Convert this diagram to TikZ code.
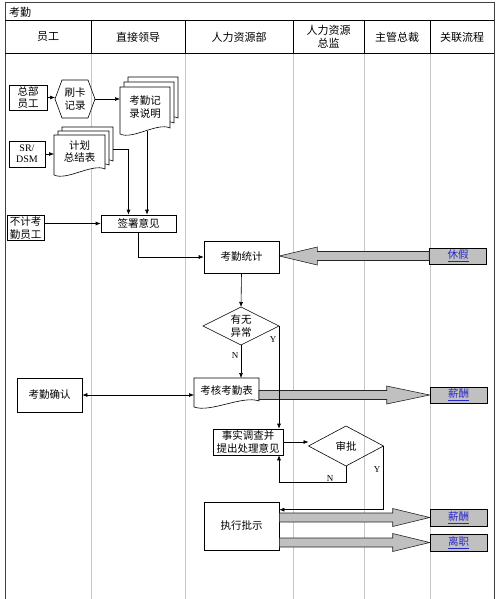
\documentclass[tikz,border=0pt]{standalone}
\usepackage{fontspec}
\setmainfont{Liberation Serif}
\newfontfamily\cjk{Noto Sans CJK SC}
\usetikzlibrary{calc,arrows.meta}
\definecolor{linkblue}{RGB}{40,40,200}
\definecolor{linkfill}{RGB}{192,192,192}
\tikzset{
  txt/.style={font=\cjk\fontsize{10.5}{12.5}\selectfont, align=center, inner sep=1pt},
  box/.style={txt, draw, line width=0.6pt},
  ghost/.style={inner sep=0pt, outer sep=0pt},
  hdr/.style={font=\cjk\fontsize{11}{13}\selectfont, align=center, inner sep=0pt},
  link/.style={draw, line width=0.6pt, fill=linkfill, minimum width=57pt, minimum height=16pt,
    inner sep=0pt, font=\cjk\fontsize{10.5}{12}\selectfont, text=linkblue},
  conn/.style={line width=0.6pt, -{Latex[length=5pt,width=4pt]}},
  dconn/.style={line width=0.6pt, {Latex[length=5pt,width=4pt]}-{Latex[length=5pt,width=4pt]}},
  fat/.style={draw=black!85, fill=linkfill, line width=0.6pt},
  lane/.style={draw=black!22, line width=0.8pt},
  frame/.style={draw=black!75, line width=1pt},
  yn/.style={font=\rmfamily\fontsize{9}{10}\selectfont, inner sep=0pt},
  shapeline/.style={line width=0.6pt, fill=white}
}
\newcommand{\DocShape}[3]{%
  \draw[shapeline] ($(#1.north west)+(#2,#3)$) -- ($(#1.north east)+(#2,#3)$)
    -- ($(#1.south east)+(#2,{#3-3})$)
    .. controls ($(#1.south)!0.5!(#1.south east)+(#2,{#3-9})$) and ($(#1.south)!0.5!(#1.south west)+(#2,{#3+9})$)
    .. ($(#1.south west)+(#2,{#3+3})$) -- cycle;}
\newcommand{\FatArrow}[3]{%
  \pgfmathsetmacro{\fatL}{0-(#3)}%
  \draw[fat] ($(#1)+(0,-4.5)$) -- ($(#2)+(\fatL,-4.5)$) -- ($(#2)+(\fatL,-9)$) -- (#2)
    -- ($(#2)+(\fatL,9)$) -- ($(#2)+(\fatL,4.5)$) -- ($(#1)+(0,4.5)$) -- cycle;}
\begin{document}
\begin{tikzpicture}[x=1pt,y=-1pt]
\useasboundingbox (0,0) rectangle (498,599);
% lanes and frame
\foreach \x in {91,185,293,364,430} {
  \draw[lane] (\x,53) -- (\x,599);
  \draw[line width=0.7pt] (\x,20) -- (\x,53);
}
\draw[frame] (5,599) -- (5,3) -- (494,3) -- (494,599);
\draw[line width=0.7pt] (5,20) -- (494,20);
\draw[line width=0.7pt] (5,53) -- (494,53);
% headers
\node[hdr, anchor=west] (title) at (9,12) {考勤};
\node[hdr] (h1) at (48,37) {员工};
\node[hdr] (h2) at (138,37) {直接领导};
\node[hdr] (h3) at (239,37) {人力资源部};
\node[hdr] (h4) at (328.5,37) {人力资源\\总监};
\node[hdr] (h5) at (397,37) {主管总裁};
\node[hdr] (h6) at (462,37) {关联流程};

% row 1
\node[box, minimum width=38pt, minimum height=25pt] (zb) at (28,97.5) {总部\\员工};
\node[ghost, minimum width=40pt, minimum height=38pt] (sk) at (75,99) {};
\draw[line width=0.6pt] (sk.west) -- ($(sk.north west)+(7,0)$) -- ($(sk.north east)+(-7,0)$)
  -- (sk.east) -- ($(sk.south east)+(-7,0)$) -- ($(sk.south west)+(7,0)$) -- cycle;
\node[txt] (skt) at (sk) {刷卡\\记录};
\node[ghost, minimum width=50pt, minimum height=44pt] (kj) at (145,109) {};
\DocShape{kj}{8}{-10}
\DocShape{kj}{4}{-5}
\DocShape{kj}{0}{0}
\node[txt] (kjt) at ($(kj)+(0,-2)$) {考勤记\\录说明};
\draw[conn] (zb.east) -- (zb.east -| sk.west);
\draw[conn] (sk.east) -- (sk.east -| kj.west);

% row 2
\node[box, minimum width=36pt, minimum height=26pt, font=\rmfamily\fontsize{10}{11}\selectfont] (sr) at (27,154) {SR/\\DSM};
\node[ghost, minimum width=51pt, minimum height=37pt] (jh) at (79.5,153.5) {};
\DocShape{jh}{8}{-8}
\DocShape{jh}{4}{-4}
\DocShape{jh}{0}{0}
\node[txt] (jht) at ($(jh)+(0,-2)$) {计划\\总结表};
\draw[conn] (sr.east) -- (sr.east -| jh.west);

% sign
\node[box, minimum width=75pt, minimum height=17pt] (qs) at (138.5,223.5) {签署意见};
\node[box, minimum width=37pt, minimum height=25pt] (bj) at (25.5,228) {不计考\\勤员工};
\coordinate (jhr) at ($(jh.east)+(8,-4)$);
\coordinate (qsl) at ($(qs.north)+(-10,0)$);
\draw[conn] (jhr) -| (qsl);
\coordinate (kjb) at ($(kj.south)+(2,0)$);
\draw[conn] (kjb) -- (kjb |- qs.north);
\draw[conn] (bj.east |- qs.west) -- (qs.west);

% statistics
\node[box, minimum width=75pt, minimum height=32pt] (kt) at (241.5,257) {考勤统计};
\draw[conn] (qs.south) |- (kt.west);
\node[link] (xj) at (458,256) {\underline{休假}};
\coordinate (xjt) at (kt.east |- xj.west);
\FatArrow{xj.west}{xjt}{-38}

% anomaly diamond
\node[ghost, minimum width=76pt, minimum height=38pt] (d1) at (241,326) {};
\draw[line width=0.6pt] (d1.west) -- (d1.north) -- (d1.east) -- (d1.south) -- cycle;
\node[txt] (d1t) at (d1) {有无\\异常};
\draw[conn] (kt.south) -- (d1.north);
\node[yn] (y1) at (273,340) {Y};
\node[yn] (n1) at (235,356) {N};

% check table
\node[ghost, minimum width=65pt, minimum height=26pt] (kh) at (226.5,391) {};
\DocShape{kh}{0}{0}
\node[txt] (kht) at (kh) {考核考勤表};
\draw[conn] (d1.south) -- (d1.south |- kh.north);
\node[box, minimum width=65pt, minimum height=34pt] (qr) at (49.5,395) {考勤确认};
\draw[dconn] (qr.east) -- (qr.east -| kh.west);
\node[link] (xc1) at (458.5,395) {\underline{薪酬}};
\coordinate (khs) at (kh.east |- xc1.west);
\FatArrow{khs}{xc1.west}{43}

% investigation
\node[box, minimum width=70pt, minimum height=26pt] (fc) at (248,442) {事实调查并\\提出处理意见};
\draw[conn] (d1.east) -- (d1.east |- fc.north);
\node[ghost, minimum width=75pt, minimum height=40pt] (sp) at (346,446) {};
\draw[line width=0.6pt] (sp.west) -- (sp.north) -- (sp.east) -- (sp.south) -- cycle;
\node[txt] (spt) at (sp) {审批};
\draw[conn] (fc.east) -- (fc.east -| sp.west);
\coordinate (nt) at ($(d1.east |- sp.south)+(0,16)$);
\draw[conn] (sp.south) |- (nt) -- (nt |- fc.south);
\node[yn] (n2) at (330,479) {N};
\node[yn] (y2) at (377,470) {Y};

% execute
\node[box, minimum width=75pt, minimum height=48pt] (zx) at (241.5,526) {执行批示};
\coordinate (yt) at ($(zx.north east)+(0,8)$);
\draw[conn] (sp.east) |- (yt);
\node[link, minimum height=17pt] (xc2) at (458.5,517.5) {\underline{薪酬}};
\node[link, minimum height=17pt] (lz) at (458.5,542.5) {\underline{离职}};
\coordinate (zx1) at (zx.east |- xc2.west);
\coordinate (zx2) at (zx.east |- lz.west);
\FatArrow{zx1}{xc2.west}{37}
\FatArrow{zx2}{lz.west}{37}
\end{tikzpicture}
\end{document}
